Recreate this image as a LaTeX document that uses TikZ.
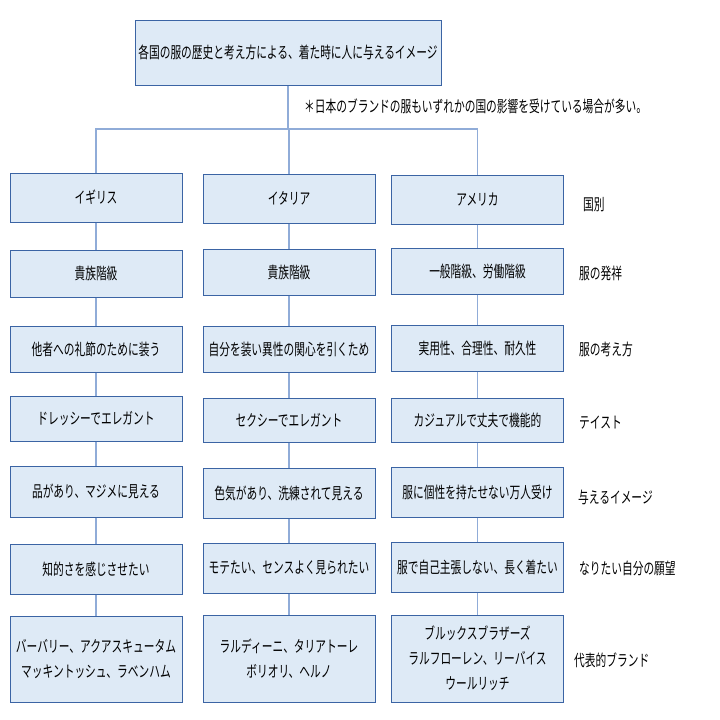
\documentclass[tikz,border=0pt]{standalone}
\usepackage{fontspec}
\newfontfamily\jp[FakeStretch=0.67]{Noto Sans CJK JP}
\definecolor{boxfill}{HTML}{DEEAF6}
\definecolor{boxline}{HTML}{3B64A4}
\definecolor{conn}{HTML}{90ACD8}
\tikzset{
  box/.style={draw=boxline, line width=1pt, fill=boxfill, minimum width=172pt, inner sep=0pt, align=center, font=\jp\fontsize{16}{25}\selectfont},
  lab/.style={anchor=west, inner sep=0pt, font=\jp\fontsize{16}{25}\selectfont},
  conline/.style={draw=conn, line width=1.1pt}
}
\begin{document}
\begin{tikzpicture}[x=1pt,y=-1pt]
\useasboundingbox (0,0) rectangle (720,720);
% top
\node[box, minimum width=306pt, minimum height=65pt] (top) at (288,52.5) {各国の服の歴史と考え方による、着た時に人に与えるイメージ};
\node[lab] (note) at (304,106) {＊日本のブランドの服もいずれかの国の影響を受けている場合が多い。};
\coordinate (bus) at (288,129);
% row 1
\node[box, minimum height=49pt] (a1) at (96,197.5) {イギリス};
\node[box, minimum height=49pt] (b1) at (289,198.5) {イタリア};
\node[box, minimum height=49pt] (c1) at (477.5,199.5) {アメリカ};
\node[lab] (l1) at (583,205) {国別};
% row 2
\node[box, minimum height=47pt] (a2) at (96,273.5) {貴族階級};
\node[box, minimum height=46pt] (b2) at (289,272) {貴族階級};
\node[box, minimum height=46pt] (c2) at (477.5,271) {一般階級、労働階級};
\node[lab] (l2) at (579,273) {服の発祥};
% row 3
\node[box, minimum height=46pt] (a3) at (96,349) {他者への礼節のために装う};
\node[box, minimum height=46pt] (b3) at (289,349) {自分を装い異性の関心を引くため};
\node[box, minimum height=46pt] (c3) at (477.5,348) {実用性、合理性、耐久性};
\node[lab] (l3) at (579,349) {服の考え方};
% row 4
\node[box, minimum height=45pt] (a4) at (96,418.5) {ドレッシーでエレガント};
\node[box, minimum height=44pt] (b4) at (289,420) {セクシーでエレガント};
\node[box, minimum height=44pt] (c4) at (477.5,420) {カジュアルで丈夫で機能的};
\node[lab] (l4) at (579,423) {テイスト};
% row 5
\node[box, minimum height=51pt] (a5) at (96,491.5) {品があり、マジメに見える};
\node[box, minimum height=50pt] (b5) at (289,493) {色気があり、洗練されて見える};
\node[box, minimum height=50pt] (c5) at (477.5,492) {服に個性を持たせない万人受け};
\node[lab] (l5) at (578,497) {与えるイメージ};
% row 6
\node[box, minimum height=50pt] (a6) at (96,569) {知的さを感じさせたい};
\node[box, minimum height=50pt] (b6) at (289,568) {モテたい、センスよく見られたい};
\node[box, minimum height=50pt] (c6) at (477.5,567) {服で自己主張しない、長く着たい};
\node[lab] (l6) at (579,568) {なりたい自分の願望};
% row 7
\node[box, minimum height=86pt] (a7) at (96,659) {バーバリー、アクアスキュータム\\マッキントッシュ、ラベンハム};
\node[box, minimum height=87pt] (b7) at (289,658.5) {ラルディーニ、タリアトーレ\\ボリオリ、ヘルノ};
\node[box, minimum height=87pt] (c7) at (477.5,658.5) {ブルックスブラザーズ\\ラルフローレン、リーバイス\\ウールリッチ};
\node[lab] (l7) at (574,660) {代表的ブランド};
% connectors
\draw[conline] (top.south) -- (bus);
\draw[conline] (a1.north) |- (bus) -| (c1.north);
\draw[conline] (b1.north) -- (b1.north |- bus);
\foreach \c in {a,b,c}{
  \draw[conline] (\c1.south) -- (\c2.north);
  \draw[conline] (\c2.south) -- (\c3.north);
  \draw[conline] (\c3.south) -- (\c4.north);
  \draw[conline] (\c4.south) -- (\c5.north);
  \draw[conline] (\c5.south) -- (\c6.north);
  \draw[conline] (\c6.south) -- (\c7.north);
}
\end{tikzpicture}
\end{document}
